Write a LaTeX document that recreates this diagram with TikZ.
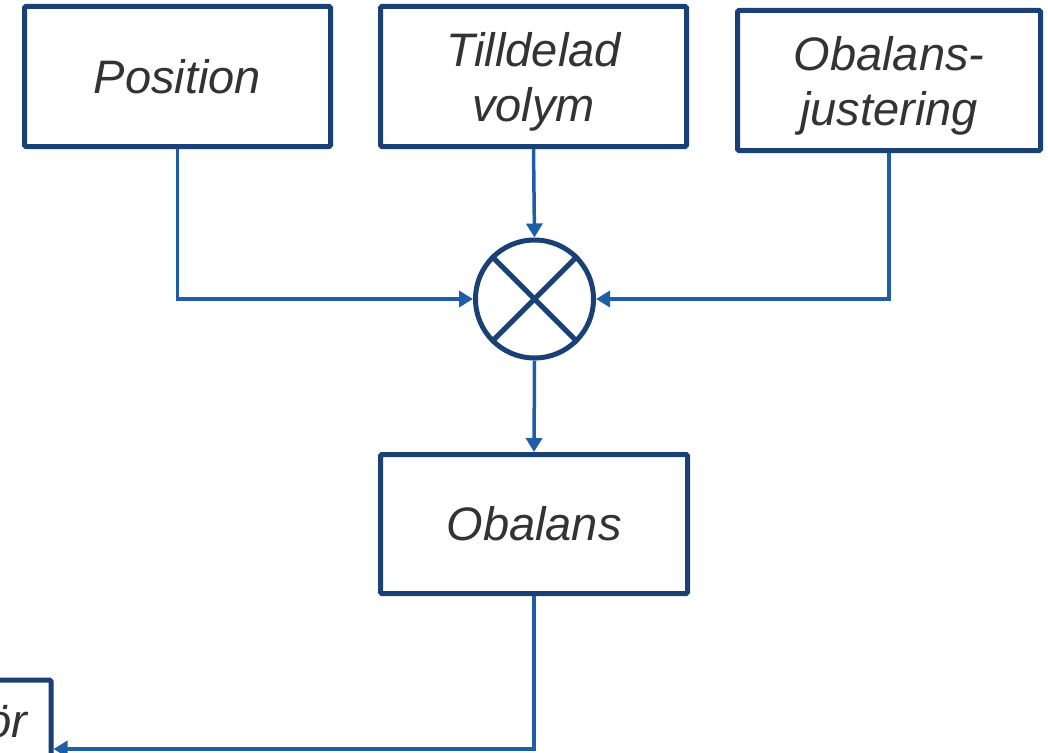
\documentclass[tikz,border=0pt]{standalone}
\usepackage{fontspec}
\setmainfont{Liberation Sans}
\usetikzlibrary{arrows.meta}
\definecolor{boxline}{HTML}{1A4175}
\definecolor{flow}{HTML}{1F5DA6}
\definecolor{txt}{HTML}{333333}
\newcommand{\toplift}{\rule{0pt}{44pt}}
\tikzset{
  block/.style={draw=boxline, line width=5pt, rounded corners=1.5pt, fill=white,
    minimum width=306pt, minimum height=140pt, align=center, text=txt,
    font=\fontsize{47}{55}\selectfont\itshape, inner sep=0pt},
  flowline/.style={draw=flow, line width=3.5pt, -{Triangle[length=14pt,width=16pt]}},
}
\begin{document}
\begin{tikzpicture}[x=1pt, y=-1pt]
\useasboundingbox (0,0) rectangle (1048,752);
\clip (0,0) rectangle (1048,752);
% input blocks
\node[block] (pos) at (177.5,76.5) {Position};
\node[block] (vol) at (533.5,76.5) {\toplift Tilldelad\\volym};
\node[block, minimum width=303pt] (just) at (889,80.5) {\toplift Obalans-\\justering};
% multiplication junction
\node[draw=boxline, line width=5pt, circle, minimum size=118pt, inner sep=0pt] (mul) at (534.5,299) {};
\draw[boxline, line width=5pt] (mul.north west) -- (mul.south east)
  (mul.north east) -- (mul.south west);
% result block
\node[block, minimum width=307pt, minimum height=139pt] (obal) at (534,524) {Obalans};
% next block, partly outside the frame
\node[block, minimum width=306pt, minimum height=138pt] (next) at (-102,749) {};
\node[anchor=base east, text=txt, font=\fontsize{47}{55}\selectfont\itshape, inner sep=0pt] (nexttxt) at (27,737) {ör};
% connectors
\draw[flowline] (pos.south) |- (mul.west);
\draw[flowline] (vol.south) -- (mul.north);
\draw[flowline] (just.south) |- (mul.east);
\draw[flowline] (mul.south) -- (obal.north);
\draw[flowline] (obal.south) |- (next.east);
\end{tikzpicture}
\end{document}
